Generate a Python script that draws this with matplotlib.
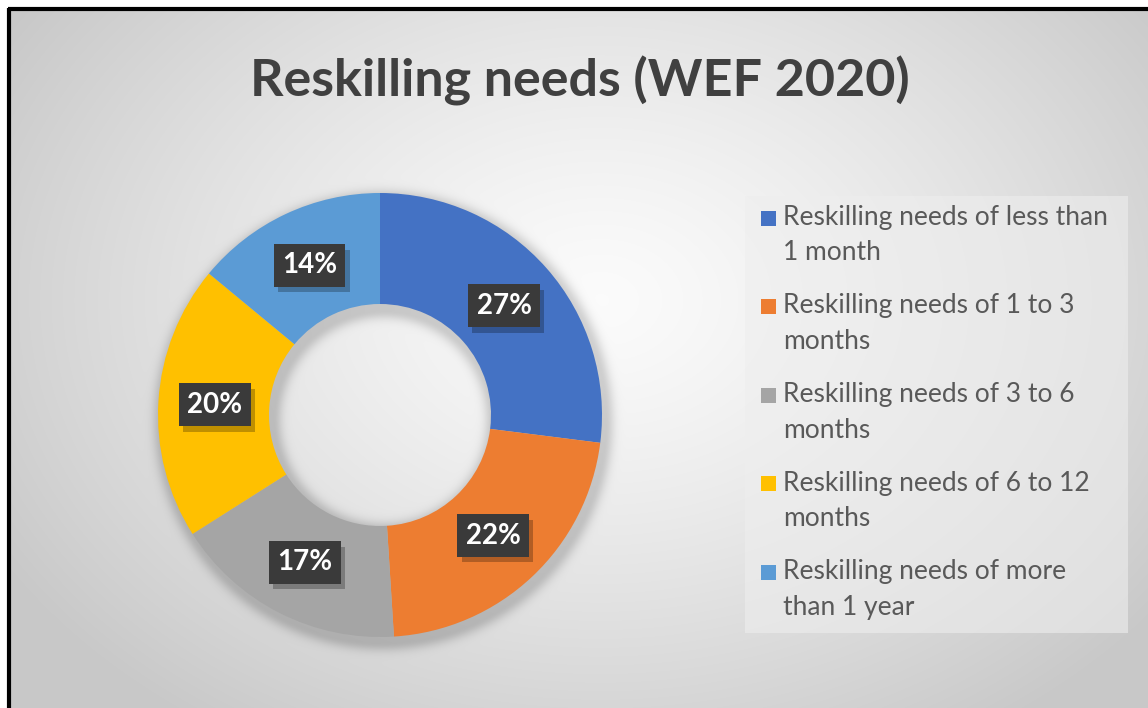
import numpy as np
import matplotlib.pyplot as plt
from matplotlib.patches import Rectangle
from matplotlib import patheffects as pe

# Dados do gráfico (WEF 2020)
categorias = [
    'Reskilling needs of less than\n1 month',
    'Reskilling needs of 1 to 3\nmonths',
    'Reskilling needs of 3 to 6\nmonths',
    'Reskilling needs of 6 to 12\nmonths',
    'Reskilling needs of more\nthan 1 year',
]
percentuais = [27, 22, 17, 20, 14]
cores = ['#4472C4', '#ED7D31', '#A5A5A5', '#FFC000', '#5B9BD5']
titulo = 'Reskilling needs (WEF 2020)'

W, H = 1148, 708
fig = plt.figure(figsize=(W / 100, H / 100), dpi=100)


def px(x):
    return x / W


def py(y):
    return 1 - y / H


# Fundo com gradiente radial e sombra suave do anel
yy, xx = np.mgrid[0:H, 0:W]
dist = np.sqrt(((xx - 600) / 700) ** 2 + ((yy - 300) / 520) ** 2)
fundo = 0.985 - 0.20 * np.clip(dist, 0, 1) ** 1.3

cx, cy, r_ext, r_int = 380, 415, 222, 110
r = np.sqrt((xx - cx - 3) ** 2 + (yy - cy - 5) ** 2)
d = np.maximum(r - r_ext, 0) + np.maximum(r_int - r, 0)
fundo -= 0.16 * np.exp(-(d / 9) ** 2)
fundo[:8, :] = 1.0
fundo[:, :8] = 1.0

ax_fundo = fig.add_axes([0, 0, 1, 1])
ax_fundo.imshow(np.dstack([fundo] * 3), extent=(0, W, H, 0), aspect='auto', zorder=0)
ax_fundo.plot([8, W], [9, 9], color='black', lw=3, solid_capstyle='butt')
ax_fundo.plot([9, 9], [8, H], color='black', lw=3, solid_capstyle='butt')
ax_fundo.set_xlim(0, W)
ax_fundo.set_ylim(H, 0)
ax_fundo.axis('off')

# Caixa da legenda
ax_fundo.add_patch(Rectangle((745, 196), 383, 437, facecolor='#eeeeee', alpha=0.6,
                             edgecolor='none'))

# Título
fig.text(px(580), py(96), titulo, ha='center', va='baseline', fontsize=37.5,
         fontweight='bold', family='Lato', color='#404040')

# Rosca
lado = 2.2 * r_ext
ax = fig.add_axes([px(cx - lado / 2), py(cy + lado / 2), lado / W, lado / H])
fatias, _, rotulos = ax.pie(percentuais, colors=cores, startangle=90, counterclock=False,
                            radius=1, wedgeprops=dict(width=0.5, edgecolor='none'),
                            autopct=lambda p: f'{p:.0f}%', pctdistance=0.745)
ax.set_xlim(-1.1, 1.1)
ax.set_ylim(-1.1, 1.1)
ax.set_aspect('equal')
ax.axis('off')

for t in rotulos:
    t.set_family('Lato')
    t.set_fontsize(20)
    t.set_fontweight('bold')
    t.set_color('white')
    t.set_bbox(dict(boxstyle='square,pad=0.3', facecolor='#3a3a3a', edgecolor='none'))
    # sombra da etiqueta
    t.get_bbox_patch().set_path_effects([
        pe.SimplePatchShadow(offset=(3, -4), shadow_rgbFace='black', alpha=0.25),
        pe.Normal(),
    ])

# Legenda manual
y0 = 218
passo = 88.5
for i, (nome, cor) in enumerate(zip(categorias, cores)):
    yc = y0 + i * passo
    ax_fundo.add_patch(Rectangle((761, yc - 7.5), 15, 15, facecolor=cor, edgecolor='none'))
    for j, linha in enumerate(nome.split('\n')):
        ax_fundo.text(783, yc + 7 + j * 35.5, linha, ha='left', va='baseline',
                      fontsize=19, family='Lato', color='#595959')

fig.savefig('out.png', dpi=100)
